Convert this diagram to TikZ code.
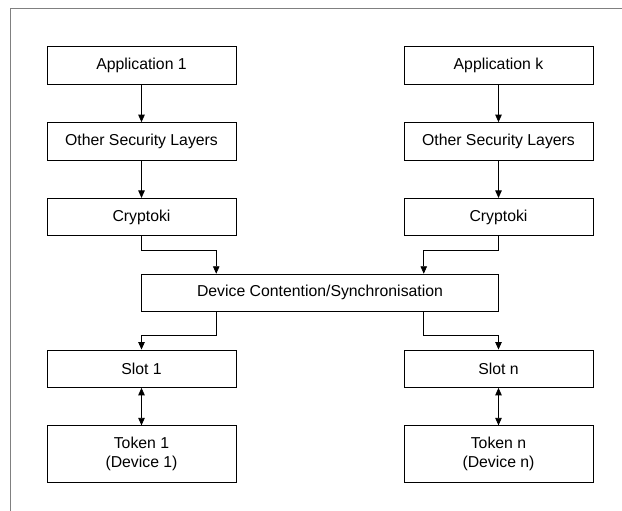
\documentclass[tikz,border=0pt]{standalone}
\usepackage{fontspec}
\setmainfont{Liberation Sans}
\usetikzlibrary{arrows.meta,positioning,calc}
\tikzset{
  box/.style={draw=black, line width=0.8pt, align=center, inner sep=2pt, minimum width=189pt, minimum height=37.5pt, font=\fontsize{15.8}{19}\selectfont},
  widebox/.style={box, minimum width=357pt},
  tallbox/.style={box, minimum height=57pt},
  arrow/.style={-{Triangle[length=7.5pt,width=6.5pt]}, line width=0.8pt},
  dblarrow/.style={{Triangle[length=7.5pt,width=6.5pt]}-{Triangle[length=7.5pt,width=6.5pt]}, line width=0.8pt},
  frameline/.style={draw=black!50, line width=1pt}
}

\begin{document}
\begin{tikzpicture}[x=1pt, y=1pt, node distance=37.5pt]
\useasboundingbox (0,0) rectangle (622,-511);
\draw[frameline] (10,-9) rectangle (640,-530);
% application columns
\node[box] (app1) at (141.5,-65.5) {Application 1};
\node[box, below=of app1] (sec1) {Other Security Layers};
\node[box, below=of sec1] (crypto1) {Cryptoki};
\node[box] (appk) at (498.5,-65.5) {Application k};
\node[box, below=of appk] (seck) {Other Security Layers};
\node[box, below=of seck] (cryptok) {Cryptoki};
\draw[arrow] (app1) -- (sec1);
\draw[arrow] (sec1) -- (crypto1);
\draw[arrow] (appk) -- (seck);
\draw[arrow] (seck) -- (cryptok);
% shared layer
\coordinate (mid) at ($(crypto1.south)!0.5!(cryptok.south)$);
\node[widebox, below=of mid] (device) {Device Contention/Synchronisation};
\coordinate (dinl) at ($(device.north west)!0.21!(device.north east)$);
\coordinate (dinr) at ($(device.north west)!0.79!(device.north east)$);
\coordinate (doutl) at ($(device.south west)!0.21!(device.south east)$);
\coordinate (doutr) at ($(device.south west)!0.79!(device.south east)$);
\draw[arrow] (crypto1.south) |- ([yshift=23pt]dinl) -- (dinl);
\draw[arrow] (cryptok.south) |- ([yshift=23pt]dinr) -- (dinr);
% slots and tokens
\coordinate (s1) at (device.south -| app1);
\coordinate (sn) at (device.south -| appk);
\node[box, below=of s1] (slot1) {Slot 1};
\node[box, below=of sn] (slotn) {Slot n};
\node[tallbox, below=of slot1] (token1) {Token 1\\(Device 1)};
\node[tallbox, below=of slotn] (tokenn) {Token n\\(Device n)};
\draw[arrow] (doutl) -- ++(0,-23) -| (slot1.north);
\draw[arrow] (doutr) -- ++(0,-23) -| (slotn.north);
\draw[dblarrow] (slot1) -- (token1);
\draw[dblarrow] (slotn) -- (tokenn);
\end{tikzpicture}
\end{document}
